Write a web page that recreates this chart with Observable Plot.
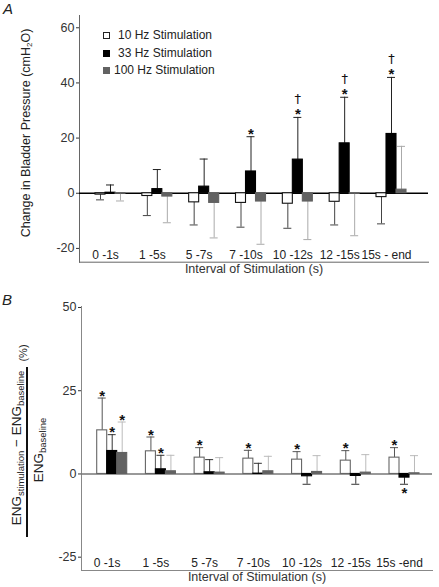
<!DOCTYPE html>
<html><head><meta charset="utf-8">
<script src="https://cdn.jsdelivr.net/npm/d3@7"></script>
<script src="https://cdn.jsdelivr.net/npm/@observablehq/plot@0.6"></script>
<style>
body{margin:0;background:#fff;font-family:"Liberation Sans",Arial,sans-serif;color:#222}
#wrap{position:relative;width:439px;height:587px;overflow:hidden;background:#fff}
.abs{position:absolute;white-space:nowrap}
.rot{position:absolute;width:0;height:0;transform:rotate(-90deg);transform-origin:0 0}
.c{position:absolute;white-space:nowrap;transform:translate(-50%,-50%)}
.sub{font-size:9.5px;position:relative;top:3px}
.leg{position:absolute;font-size:12px;color:#222;white-space:nowrap;line-height:14px}
.sw{position:absolute;width:7px;height:7px;box-sizing:border-box}
</style></head><body>
<div id="wrap">
  <div id="pa" class="abs" style="left:0;top:0"></div>
  <div id="pb" class="abs" style="left:0;top:290px"></div>

  <div class="abs" style="left:3px;top:1px;font-size:15px;line-height:15px;font-style:italic">A</div>
  <div class="abs" style="left:2px;top:292px;font-size:15px;line-height:15px;font-style:italic">B</div>

  <div class="rot" style="left:26px;top:133px">
    <div class="c" style="left:0;top:0;font-size:12.5px">Change in Bladder Pressure (cmH<span style="font-size:8px;position:relative;top:2px">2</span>O)</div>
  </div>

  <div id="legend"></div>

  <div class="rot" style="left:26.7px;top:452px">
    <div style="position:absolute;left:-85px;top:-0.8px;width:170px;height:1.6px;background:#111"></div>
    <div class="c" style="left:4px;top:-11px;font-size:13.5px">ENG<span class="sub">stimulation</span> − ENG<span class="sub">baseline</span></div>
    <div class="c" style="left:2px;top:11px;font-size:13.5px">ENG<span class="sub">baseline</span></div>
    <div class="c" style="left:99px;top:-4px;font-size:11px">(%)</div>
  </div>
</div>
<script>
const categoriesA = ["0 -1s","1 -5s","5 -7s","7 -10s","10 -12s","12 -15s","15s - end"];
const categoriesB = ["0 -1s","1 -5s","5 -7s","7 -10s","10 -12s","12 -15s","15s -end"];
const seriesLabels = ["10 Hz Stimulation","33 Hz Stimulation","100 Hz Stimulation"];

// Panel A: change in bladder pressure (cmH2O), mean and error magnitude
const pressure10 = [-0.5,-1.0,-3.3,-3.5,-3.8,-3.1,-1.4];
const pressure10Err = [1.9,7.1,8.2,8.8,8.9,8.4,9.7];
const pressure33 = [0.2,1.5,2.4,7.9,12.2,18.1,21.5];
const pressure33Err = [2.8,7.1,10.0,12.6,15.3,16.7,20.5];
const pressure100 = [-0.2,-1.2,-3.5,-3.0,-3.0,-0.2,1.3];
const pressure100Err = [2.6,9.5,12.7,15.5,13.8,15.2,15.7];
const pressure33Star = [0,0,0,1,1,1,1];
const pressure33Dagger = [0,0,0,0,1,1,1];

// Panel B: ENG change (%)
const eng10 = [13.1,6.8,4.9,4.6,4.3,4.0,4.9];
const eng10Err = [9.7,4.3,3.0,2.5,2.4,3.0,3.0];
const eng33 = [6.9,1.4,0.5,0.1,-0.7,-0.6,-1.1];
const eng33Err = [4.9,4.2,3.8,3.1,2.4,2.5,2.0];
const eng100 = [6.3,0.8,0.4,0.8,0.6,0.4,0.2];
const eng100Err = [9.3,4.8,4.5,4.5,4.9,5.4,5.3];
const eng10Star = [1,1,1,1,1,1,1];
const eng33Star = [1,1,0,0,0,0,1];
const eng100Star = [1,0,0,0,0,0,0];

const yTicksA = [-20,0,20,40,60];
const yTicksB = [-25,0,25,50];

function rows(cats, vals, errs, stars, daggers) {
  return cats.map((c,i) => ({
    cat: c, value: vals[i],
    end: vals[i] + (vals[i] < 0 ? -1 : 1) * errs[i],
    star: stars ? !!stars[i] : false,
    dagger: daggers ? !!daggers[i] : false
  }));
}

function build(o) {
  const marks = [
    Plot.frame({anchor:"left", stroke:o.axisColor}),
    Plot.frame({anchor:"bottom", stroke:o.axisColor}),
    Plot.axisY({ticks:o.yTicks, tickSize:3, tickPadding:2, tickFormat:d => String(d), fontSize:12.5, color:"#333", label:null}),
    Plot.axisX({tickSize:0, tickPadding:0, dy:-12, dx:-5, fontSize:12, color:"#222", label:null}),
    Plot.ruleY([0], {stroke:o.zeroColor, strokeWidth:1.5}),
    Plot.text([o.xTitle], {frameAnchor:"bottom", dy:o.titleDy, text:d => d, fontSize:12.5, fill:"#333"})
  ];
  for (const s of o.series) {
    marks.push(Plot.ruleX(s.rows, {x:"cat", y1:"value", y2:"end", dx:s.dx, stroke:s.errColor, strokeWidth:1}));
    marks.push(Plot.tickY(s.rows, {x:"cat", y:"end", dx:s.dx, stroke:s.errColor, strokeWidth:1, insetLeft:1, insetRight:1}));
    marks.push(Plot.barY(s.rows, {x:"cat", y:"value", dx:s.dx, fill:s.fill, stroke:s.stroke, strokeWidth:1.1}));
    marks.push(Plot.text(s.rows.filter(d => d.star && d.end >= 0), {x:"cat", y:"end", dx:s.dx, dy:o.starUp, text:() => "*", fontSize:15, fontWeight:"bold", fill:"#111"}));
    marks.push(Plot.text(s.rows.filter(d => d.star && d.end < 0), {x:"cat", y:"end", dx:s.dx, dy:o.starDown, text:() => "*", fontSize:15, fontWeight:"bold", fill:"#111"}));
    marks.push(Plot.text(s.rows.filter(d => d.dagger), {x:"cat", y:"end", dx:s.dx, dy:-18.8, text:() => "\u2020", fontSize:13, fill:"#111", fontFamily:"DejaVu Sans"}));
  }
  return Plot.plot({
    width:439, height:o.height,
    marginLeft:o.ml, marginRight:o.mr, marginTop:o.mt, marginBottom:o.mb,
    x:{type:"band", domain:o.cats, range:o.xRange, paddingInner:o.pi, paddingOuter:0, round:false},
    y:{domain:o.yDomain},
    style:{fontFamily:'"Liberation Sans", Arial, sans-serif', background:"transparent", overflow:"visible"},
    marks
  });
}

const svgA = build({
  cats: categoriesA, height:290, ml:79, mr:11, mt:15, mb:28.3,
  xRange:[105,396], pi:0.7865, yDomain:[-25,64.45], yTicks:yTicksA,
  axisColor:"#666", zeroColor:"#000", starUp:-3, starDown:9.4,
  xTitle:"Interval of Stimulation (s)", titleDy:11,
  series:[
    {rows:rows(categoriesA,pressure10,pressure10Err), dx:-10, fill:"#fff", stroke:"#111", errColor:"#444"},
    {rows:rows(categoriesA,pressure33,pressure33Err,pressure33Star,pressure33Dagger), dx:0, fill:"#000", stroke:"#000", errColor:"#222"},
    {rows:rows(categoriesA,pressure100,pressure100Err), dx:10, fill:"#626262", stroke:"#626262", errColor:"#aaa"}
  ]
});
document.getElementById("pa").appendChild(svgA);

const svgB = build({
  cats: categoriesB, height:297, ml:81, mr:7, mt:16, mb:17,
  xRange:[106.7,409.0], pi:0.7947, yDomain:[-29,50.3], yTicks:yTicksB,
  axisColor:"#888", zeroColor:"#777", starUp:-2, starDown:9.4,
  xTitle:"Interval of Stimulation (s)", titleDy:10,
  series:[
    {rows:rows(categoriesB,eng10,eng10Err,eng10Star), dx:-10, fill:"#fff", stroke:"#666", errColor:"#555"},
    {rows:rows(categoriesB,eng33,eng33Err,eng33Star), dx:0, fill:"#000", stroke:"#000", errColor:"#333"},
    {rows:rows(categoriesB,eng100,eng100Err,eng100Star), dx:10, fill:"#626262", stroke:"#626262", errColor:"#bbb"}
  ]
});
document.getElementById("pb").appendChild(svgB);

// legend (panel A)
const legendStyles = [
  {fill:"#fff", border:"1px solid #222", top:35.5, textLeft:118},
  {fill:"#000", border:"none", top:53, textLeft:118},
  {fill:"#626262", border:"none", top:70.3, textLeft:114}
];
const leg = document.getElementById("legend");
seriesLabels.forEach((lab, i) => {
  const st = legendStyles[i];
  const sw = document.createElement("div");
  sw.className = "sw";
  sw.style.left = "102.5px"; sw.style.top = (st.top - 3.5) + "px";
  sw.style.background = st.fill; sw.style.border = st.border;
  leg.appendChild(sw);
  const t = document.createElement("div");
  t.className = "leg";
  t.style.left = st.textLeft + "px"; t.style.top = (st.top - 7.5) + "px";
  t.textContent = lab;
  leg.appendChild(t);
});
</script>
</body></html>
